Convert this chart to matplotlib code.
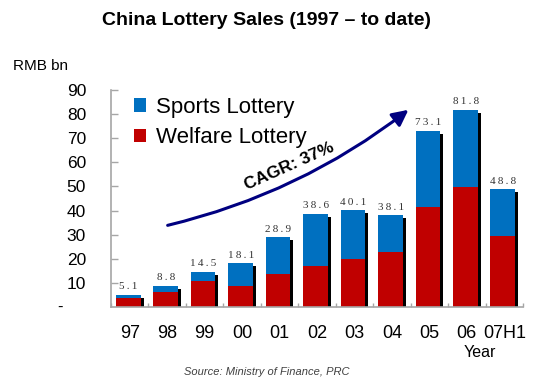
import matplotlib
matplotlib.use("Agg")
import matplotlib.pyplot as plt
from matplotlib.patches import FancyArrowPatch
import numpy as np

# data (RMB bn)
years = ["97", "98", "99", "00", "01", "02", "03", "04", "05", "06", "07H1"]
totals = [5.1, 8.8, 14.5, 18.1, 28.9, 38.6, 40.1, 38.1, 73.1, 81.8, 48.8]
welfare = [3.6, 6.4, 10.6, 8.9, 13.7, 16.9, 20.1, 23.0, 41.3, 49.9, 29.5]
sports = [t - w for t, w in zip(totals, welfare)]

BLUE = "#0070C0"
RED = "#C00000"
GREY = "#A6A6A6"
SANS = ["Liberation Sans", "DejaVu Sans"]
SERIF = ["Liberation Serif", "DejaVu Serif"]

plt.rcParams["font.family"] = SANS

W, H = 540, 383
fig = plt.figure(figsize=(W / 100, H / 100), dpi=100)


def fx(px):
    return px / W


def fy(py):
    return 1 - py / H


ax = fig.add_axes([fx(111), fy(307), fx(523) - fx(111), fy(90) - fy(307)])

x = np.arange(len(years))
bw = 0.66
off = -0.04

# shadows
ax.bar(x + off + 0.08, np.array(totals) - 1.2, width=bw, color="black", zorder=1)
ax.bar(x + off, welfare, width=bw, color=RED, zorder=2, label="Welfare Lottery")
ax.bar(x + off, sports, width=bw, bottom=welfare, color=BLUE, zorder=2, label="Sports Lottery")

for xi, t in zip(x, totals):
    lbl = "\u2009".join(f"{t:.1f}")
    ax.text(xi - 0.03, t + 2.3, lbl, ha="center", va="baseline", fontsize=8,
            family=SERIF, color="#333333")

ax.set_xlim(-0.5, len(years) - 0.5)
ax.set_ylim(0, 90)
ax.set_yticks(range(10, 100, 10))
ax.set_yticklabels([str(v) for v in range(10, 100, 10)], fontsize=12.5)
ax.set_xticks(x)
ax.set_xticklabels(years, fontsize=13)
ax.set_xticks(np.arange(len(years) + 1) - 0.5, minor=True)
ax.tick_params(axis="x", which="major", length=0, pad=13)
ax.tick_params(axis="x", which="minor", direction="in", length=3, color=GREY, width=1)
ax.tick_params(axis="y", direction="in", length=5, color=GREY, width=1, pad=18)
ax.text(-0.124, 0, "-", transform=ax.get_yaxis_transform(), ha="center", va="center",
        fontsize=12)

for s in ["top", "right"]:
    ax.spines[s].set_visible(False)
for s in ["left", "bottom"]:
    ax.spines[s].set_color(GREY)
    ax.spines[s].set_linewidth(1.2)

# legend
handles, labels = ax.get_legend_handles_labels()
ax.legend(handles[::-1], labels[::-1], loc="upper left",
          bbox_to_anchor=((134 - 111) / 412, (307 - 97) / 217), frameon=False,
          fontsize=16, handlelength=0.55, handleheight=0.55, handletextpad=0.45,
          labelspacing=0.42, borderpad=0, borderaxespad=0)

# growth arrow
arrow = FancyArrowPatch((0.94, 33.6), (7.5, 82.5), connectionstyle="arc3,rad=0.11",
                        arrowstyle="-|>,head_length=0.8,head_width=0.4",
                        mutation_scale=12, color="#000080", lw=2.2, zorder=3)
ax.add_patch(arrow)
ax.text(4.27, 58.5, "CAGR: 37%", rotation=24, rotation_mode="anchor", ha="center",
        va="center", fontsize=12.5, fontweight="bold", color="black")

# titles and notes
fig.text(fx(266), fy(25), "China Lottery Sales (1997 \u2013 to date)", ha="center",
         va="baseline", fontsize=14, fontweight="bold")
fig.text(fx(13), fy(70), "RMB bn", ha="left", va="baseline", fontsize=11)
fig.text(fx(480), fy(357), "Year", ha="center", va="baseline", fontsize=11.5)
fig.text(fx(267), fy(375), "Source: Ministry of Finance, PRC", ha="center",
         va="baseline", fontsize=8, style="italic", color="#404040")

fig.savefig("out.png", dpi=100)
